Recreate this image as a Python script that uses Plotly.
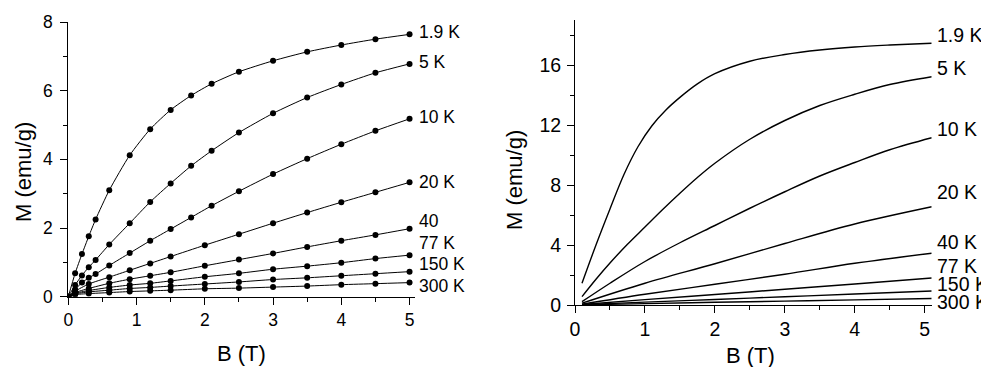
import plotly.graph_objects as go

# page body has an 8px margin; the figure fills the rest of the 989x367 window
OFF = 8
W, H = 989 - OFF, 367 - OFF


def PX(px):
    return (px - OFF) / W


def PY(py):
    return 1 - (py - OFF) / H


# ---------------- Left panel data (measured points) ----------------
B_low = [0, 0.1, 0.2, 0.3, 0.4, 0.6, 0.9, 1.2, 1.5, 1.8, 2.1, 2.5, 3, 3.5, 4, 4.5, 5]
M_1p9K = [0, 0.68, 1.24, 1.76, 2.25, 3.10, 4.12, 4.88, 5.44, 5.86, 6.20, 6.55, 6.87, 7.13, 7.33, 7.50, 7.64]
M_5K = [0, 0.34, 0.62, 0.86, 1.07, 1.52, 2.14, 2.76, 3.30, 3.81, 4.25, 4.78, 5.34, 5.80, 6.18, 6.52, 6.78]
M_10K = [0, 0.21, 0.41, 0.55, 0.66, 0.91, 1.27, 1.63, 1.97, 2.31, 2.65, 3.07, 3.57, 4.02, 4.44, 4.83, 5.18]

B_high = [0, 0.1, 0.3, 0.6, 0.9, 1.2, 1.5, 2, 2.5, 3, 3.5, 4, 4.5, 5]
M_20K = [0, 0.16, 0.37, 0.57, 0.77, 0.97, 1.17, 1.50, 1.82, 2.14, 2.45, 2.75, 3.04, 3.33]
M_40K = [0, 0.12, 0.24, 0.39, 0.51, 0.61, 0.71, 0.90, 1.08, 1.26, 1.45, 1.63, 1.80, 1.98]
M_77K = [0, 0.10, 0.18, 0.27, 0.34, 0.39, 0.46, 0.58, 0.68, 0.80, 0.89, 0.99, 1.11, 1.21]
M_150K = [0, 0.08, 0.14, 0.19, 0.24, 0.27, 0.31, 0.37, 0.43, 0.50, 0.55, 0.61, 0.67, 0.73]
M_300K = [0, 0.06, 0.09, 0.12, 0.15, 0.17, 0.19, 0.23, 0.25, 0.28, 0.31, 0.35, 0.38, 0.41]

left_names = ["1.9 K", "5 K", "10 K", "20 K", "40", "77 K", "150 K", "300 K"]
left_B = [B_low, B_low, B_low, B_high, B_high, B_high, B_high, B_high]
left_M = [M_1p9K, M_5K, M_10K, M_20K, M_40K, M_77K, M_150K, M_300K]

# ---------------- Right panel data (calculated curves) ----------------
B_r1 = [0.1, 0.3, 0.5, 0.7, 0.9, 1.1, 1.3, 1.5, 1.75, 2.0, 2.5, 3.0, 3.5, 4.0, 4.5, 5.1]
R_1p9K = [1.45, 4.0, 6.4, 8.7, 10.55, 11.95, 13.0, 13.84, 14.74, 15.42, 16.25, 16.7, 17.0, 17.2, 17.33, 17.45]
B_r2 = [0.1, 0.3, 0.5, 0.75, 1.0, 1.25, 1.5, 1.75, 2.0, 2.5, 3.0, 3.5, 4.0, 4.5, 5.1]
R_5K = [0.56, 1.72, 2.8, 4.05, 5.2, 6.35, 7.45, 8.5, 9.45, 11.05, 12.3, 13.3, 14.05, 14.7, 15.22]
B_r3 = [0.1, 0.5, 1.0, 1.5, 2.0, 2.5, 3.0, 3.5, 4.0, 4.5, 5.1]
R_10K = [0.22, 1.45, 2.9, 4.15, 5.3, 6.45, 7.55, 8.6, 9.5, 10.35, 11.15]
B_r4 = [0.1, 1, 2, 3, 4, 5.1]
R_20K = [0.12, 1.45, 2.75, 4.1, 5.4, 6.55]
R_40K = [0.06, 0.72, 1.38, 2.05, 2.78, 3.45]
R_77K = [0.03, 0.36, 0.70, 1.05, 1.40, 1.80]
R_150K = [0.02, 0.19, 0.37, 0.55, 0.73, 0.93]
R_300K = [0.01, 0.09, 0.18, 0.26, 0.34, 0.43]

right_names = ["1.9 K", "5 K", "10 K", "20 K", "40 K", "77 K", "150 K", "300 K"]
right_B = [B_r1, B_r2, B_r3, B_r4, B_r4, B_r4, B_r4, B_r4]
right_M = [R_1p9K, R_5K, R_10K, R_20K, R_40K, R_77K, R_150K, R_300K]

# label layout (pixel rows of the curve labels)
left_label_px = [31.7, 62.3, 116.7, 181.7, 220.7, 242.7, 264.3, 285.7]
right_label_px = [35, 68.3, 129.3, 191.7, 241.7, 266, 284.3, 301.7]

FONT = "Liberation Sans, Arial, sans-serif"

fig = go.Figure()
annotations = []

for name, bx, my, py in zip(left_names, left_B, left_M, left_label_px):
    fig.add_trace(go.Scatter(
        x=bx, y=my, mode="lines+markers", name=name,
        line=dict(color="black", width=1, shape="spline", smoothing=0.6),
        marker=dict(color="black", size=6),
        xaxis="x", yaxis="y", showlegend=False))
    annotations.append(dict(x=PX(417), y=PY(py), xref="paper", yref="paper", text=name,
                            showarrow=False, xanchor="left", yanchor="middle",
                            font=dict(size=17.5, color="black", family=FONT)))

for name, bx, my, py in zip(right_names, right_B, right_M, right_label_px):
    fig.add_trace(go.Scatter(
        x=bx, y=my, mode="lines", name=name,
        line=dict(color="black", width=1.4, shape="spline", smoothing=1.0),
        xaxis="x2", yaxis="y2", showlegend=False))
    annotations.append(dict(x=PX(935), y=PY(py), xref="paper", yref="paper", text=name,
                            showarrow=False, xanchor="left", yanchor="middle",
                            font=dict(size=19.5, color="black", family=FONT)))

# axis titles
annotations += [
    dict(x=PX(23), y=PY(172), xref="paper", yref="paper", text="M (emu/g)",
         textangle=-90, showarrow=False, xanchor="center", yanchor="middle",
         font=dict(size=22, color="black", family=FONT)),
    dict(x=PX(241.7), y=PY(353), xref="paper", yref="paper", text="B (T)",
         showarrow=False, xanchor="center", yanchor="middle",
         font=dict(size=22, color="black", family=FONT)),
    dict(x=PX(514), y=PY(180), xref="paper", yref="paper", text="M (emu/g)",
         textangle=-90, showarrow=False, xanchor="center", yanchor="middle",
         font=dict(size=22, color="black", family=FONT)),
    dict(x=PX(750), y=PY(355.5), xref="paper", yref="paper", text="B (T)",
         showarrow=False, xanchor="center", yanchor="middle",
         font=dict(size=22, color="black", family=FONT)),
]


def ax(domain, rng, dtick, minor_dtick, fsize, anchor, standoff=None):
    d = dict(domain=domain, range=rng, dtick=dtick, tick0=0, automargin=False,
             showline=True, linecolor="black", linewidth=1, mirror=False,
             ticks="outside", ticklen=7, tickwidth=1, tickcolor="black",
             minor=dict(ticks="outside", ticklen=4, dtick=minor_dtick, tick0=0,
                        tickcolor="black", tickwidth=1, showgrid=False),
             showgrid=False, zeroline=False, anchor=anchor,
             tickfont=dict(size=fsize, color="black", family=FONT))
    if standoff is not None:
        d["ticklabelstandoff"] = standoff
    return d


fig.update_layout(
    template="none",
    width=W, height=H,
    margin=dict(l=0, r=0, t=0, b=0, pad=0, autoexpand=False),
    paper_bgcolor="white", plot_bgcolor="white",
    xaxis=ax([PX(68.3), PX(415)], [0, 5.08], 1, 0.5, 17.5, "y"),
    yaxis=ax([PY(296.7), PY(22)], [0, 8], 2, 1, 17.5, "x", standoff=4),
    xaxis2=ax([PX(575), PX(931.7)], [0, 5.1], 1, 0.5, 19.5, "y2"),
    yaxis2=ax([PY(305), PY(20)], [0, 19], 4, 2, 19.5, "x2", standoff=2),
    annotations=annotations,
)

fig.write_html("out.html")
